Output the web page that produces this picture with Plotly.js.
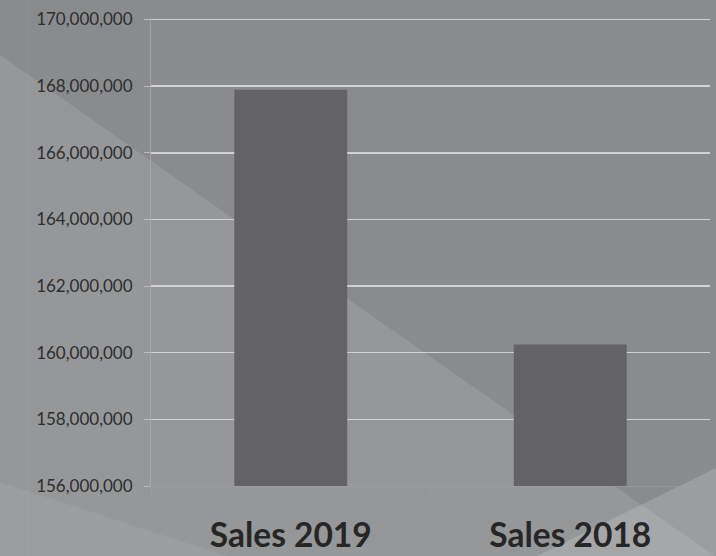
<!DOCTYPE html>
<html>
<head>
<meta charset="utf-8">
<script src="https://cdn.plot.ly/plotly-3.0.1.min.js"></script>
<style>
  html, body { margin: 0; padding: 0; background: #8a8b8d; }
  #chart { width: 716px; height: 556px; }
</style>
</head>
<body>
<div id="chart"></div>
<script>
// ---- data ----
const categories = ["Sales 2019", "Sales 2018"];
const salesValues = [167890000, 160250000];
const yTickValues = [156000000, 158000000, 160000000, 162000000, 164000000, 166000000, 168000000, 170000000];
const yRange = [156000000, 170045000];

// ---- layout geometry (pixels) ----
const W = 716, H = 556;
const M = { l: 151, r: 6, t: 18, b: 70 };
const PW = W - M.l - M.r, PH = H - M.t - M.b;
function px(x) { return (x - M.l) / PW; }
function py(y) { return (M.t + PH - y) / PH; }
function poly(points) {
  return points.map((p, i) => (i ? "L" : "M") + px(p[0]).toFixed(4) + "," + py(p[1]).toFixed(4)).join(" ") + " Z";
}

const bgShapes = [
  { type: "path", xref: "paper", yref: "paper", layer: "below",
    path: poly([[0, 55], [716, 557], [0, 557]]),
    fillcolor: "rgba(255,255,255,0.11)", line: { width: 0 } },
  { type: "path", xref: "paper", yref: "paper", layer: "below",
    path: poly([[716, 468], [716, 557], [535, 557]]),
    fillcolor: "rgba(255,255,255,0.16)", line: { width: 0 } },
  { type: "path", xref: "paper", yref: "paper", layer: "below",
    path: poly([[0, 482], [230, 557], [0, 557]]),
    fillcolor: "rgba(255,255,255,0.06)", line: { width: 0 } },
  { type: "line", xref: "paper", yref: "paper", layer: "below",
    x0: px(28), x1: px(28), y0: py(0), y1: py(556),
    line: { color: "rgba(255,255,255,0.06)", width: 1 } }
];

const trace = {
  type: "bar",
  x: categories,
  y: salesValues,
  marker: { color: "#636365", line: { width: 0 } },
  hoverinfo: "none"
};

const layout = {
  width: W, height: H,
  margin: M,
  paper_bgcolor: "#8a8b8d",
  plot_bgcolor: "rgba(0,0,0,0)",
  showlegend: false,
  bargap: 0.596,
  shapes: bgShapes,
  font: { family: "Lato, 'Open Sans', sans-serif", color: "#2b2b2b" },
  xaxis: {
    type: "category",
    showgrid: false,
    showline: true, linecolor: "rgba(160,160,178,0.55)", linewidth: 1,
    ticks: "outside", tickson: "boundaries", ticklen: 11,
    tickcolor: "rgba(160,160,178,0.55)",
    ticklabelstandoff: 20,
    tickfont: { family: "Lato, sans-serif", size: 33.5, color: "#262626", weight: "bold" },
    fixedrange: true
  },
  yaxis: {
    range: yRange,
    tickvals: yTickValues,
    tickformat: ",d",
    showgrid: true, gridcolor: "#d2d2d2", gridwidth: 1.5,
    showline: true, linecolor: "rgba(175,175,175,0.7)", linewidth: 1,
    ticks: "outside", ticklen: 6, tickcolor: "rgba(200,200,200,0.8)",
    ticklabelstandoff: 8,
    tickfont: { family: "Lato, sans-serif", size: 17, color: "#2e2e2e" },
    zeroline: false,
    fixedrange: true
  }
};

Plotly.newPlot("chart", [trace], layout, { displayModeBar: false, staticPlot: true });
</script>
</body>
</html>
